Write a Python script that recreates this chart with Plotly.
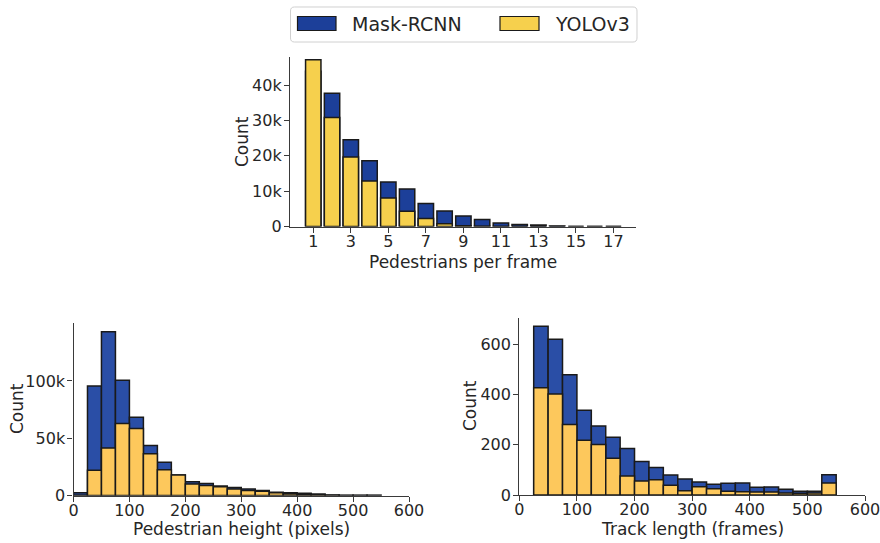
import plotly.graph_objects as go

# ---- data -------------------------------------------------------------
ped_per_frame = list(range(1, 18))
mask_ppf = [44000, 37700, 24600, 18600, 12600, 10600, 6500, 4400, 3000, 2000,
            1000, 600, 400, 120, 0, 0, 0]
yolo_ppf = [47200, 30900, 19700, 12900, 8100, 4300, 2300, 800, 200, 50,
            10, 0, 0, 0, 0, 0, 0]

height_bins = [12.5 + 25 * i for i in range(22)]
mask_height = [2300, 95600, 143000, 100600, 68400, 43600, 29000, 18000, 12000,
               10500, 8200, 7000, 5600, 4400, 2900, 2300, 2000, 1400, 500, 300,
               300, 200]
yolo_height = [300, 22000, 41500, 62900, 58500, 36500, 22500, 17800, 10000,
               8800, 7600, 5600, 4400, 3800, 2300, 1500, 1400, 600, 200, 100,
               100, 100]

track_bins = [37.5 + 25 * i for i in range(21)]
mask_track = [672, 620, 479, 338, 275, 230, 185, 133, 110, 80, 64, 52, 43, 47,
              48, 31, 32, 23, 15, 15, 81]
yolo_track = [427, 402, 281, 218, 201, 146, 76, 56, 61, 39, 17, 33, 25, 15, 13,
              12, 12, 8, 7, 8, 48]

ppf_ticks = [1, 3, 5, 7, 9, 11, 13, 15, 17]
ppf_yticks = [0, 10000, 20000, 30000, 40000]
ppf_ylabels = ["0", "10k", "20k", "30k", "40k"]
h_yticks = [0, 50000, 100000]
h_ylabels = ["0", "50k", "100k"]
t_yticks = [0, 200, 400, 600]
px_ticks = [0, 100, 200, 300, 400, 500, 600]

series_names = ["Mask-RCNN", "YOLOv3"]

# ---- styling ----------------------------------------------------------
W, H = 880, 543
BLUE_TOP, YEL_TOP = "#1c3f99", "#f6d04d"
BLUE_BOT, YEL_BOT = "#2a4ea6", "#fdc85c"
EDGE = "#1a1a1a"
TXT = "#262626"
SPINE = "#3a3a3a"
FONT = "DejaVu Sans"
TICK_FS = 16
TITLE_FS = 17


def px_x(a, b):
    return [a / W, b / W]


def px_y(top, bottom):
    return [1 - bottom / H, 1 - top / H]


fig = go.Figure()


def add_pair(xs, blue, yel, width, cb, cy, xa, ya):
    fig.add_trace(go.Bar(x=xs, y=blue, width=width,
                         marker=dict(color=cb, line=dict(color=EDGE, width=1.5)),
                         xaxis=xa, yaxis=ya, showlegend=False, name=series_names[0]))
    fig.add_trace(go.Bar(x=xs, y=yel, width=width,
                         marker=dict(color=cy, line=dict(color=EDGE, width=1.5)),
                         xaxis=xa, yaxis=ya, showlegend=False, name=series_names[1]))


add_pair(ped_per_frame, mask_ppf, yolo_ppf, 0.82, BLUE_TOP, YEL_TOP, "x", "y")
add_pair(height_bins, mask_height, yolo_height, 25, BLUE_BOT, YEL_BOT, "x2", "y2")
add_pair(track_bins, mask_track, yolo_track, 25, BLUE_BOT, YEL_BOT, "x3", "y3")

axis_common = dict(showline=True, linecolor=SPINE, linewidth=1.3, ticks="outside",
                   ticklen=5, tickwidth=1.3, tickcolor=SPINE, showgrid=False,
                   zeroline=False, automargin=False, ticklabeloverflow="allow",
                   tickfont=dict(family=FONT, size=TICK_FS, color=TXT))
x_common = dict(axis_common, ticklabelstandoff=-5)
y_common = dict(axis_common, ticklabelstandoff=-1)

fig.update_layout(
    width=W, height=H, margin=dict(l=0, r=0, t=0, b=0),
    paper_bgcolor="white", plot_bgcolor="white", barmode="overlay",
    font=dict(family=FONT, color=TXT),
    xaxis=dict(domain=px_x(290, 636), range=[-0.24, 18.2], tickvals=ppf_ticks,
               anchor="y", **x_common),
    yaxis=dict(domain=px_y(57, 226.5), range=[0, 48000], tickvals=ppf_yticks,
               ticktext=ppf_ylabels, anchor="x", **y_common),
    xaxis2=dict(domain=px_x(73.5, 409), range=[0, 600], tickvals=px_ticks,
                anchor="y2", **x_common),
    yaxis2=dict(domain=px_y(323, 495.5), range=[0, 150600], tickvals=h_yticks,
                ticktext=h_ylabels, anchor="x2", **y_common),
    xaxis3=dict(domain=px_x(519.3, 865), range=[0, 600], tickvals=px_ticks,
                anchor="y3", **x_common),
    yaxis3=dict(domain=px_y(318, 495), range=[0, 705], tickvals=t_yticks,
                anchor="x3", **y_common),
)

# axis titles, placed in pixel positions
titles = [
    ("Pedestrians per frame", 463, 262, 0),
    ("Count", 242, 142, -90),
    ("Pedestrian height (pixels)", 241, 529, 0),
    ("Count", 17, 409, -90),
    ("Track length (frames)", 692, 529, 0),
    ("Count", 470, 406, -90),
]
for text, tx, ty, ang in titles:
    fig.add_annotation(xref="paper", yref="paper", x=tx / W, y=1 - ty / H, text=text,
                       showarrow=False, textangle=ang, xanchor="center", yanchor="middle",
                       font=dict(family=FONT, size=TITLE_FS, color=TXT))


# ---- legend drawn with shapes and text --------------------------------
def pr(x0, y0, x1, y1, **kw):
    fig.add_shape(type="rect", xref="paper", yref="paper", x0=x0 / W, x1=x1 / W,
                  y0=1 - y1 / H, y1=1 - y0 / H, **kw)


def rounded_box(x0, y0, x1, y1, r):
    """SVG path of a rounded rectangle, given in pixel coords, converted to paper."""
    pts = [("M", x0 + r, y0), ("L", x1 - r, y0), ("Q", x1, y0, x1, y0 + r),
           ("L", x1, y1 - r), ("Q", x1, y1, x1 - r, y1), ("L", x0 + r, y1),
           ("Q", x0, y1, x0, y1 - r), ("L", x0, y0 + r), ("Q", x0, y0, x0 + r, y0)]
    parts = []
    for p in pts:
        cmd, nums = p[0], p[1:]
        coords = []
        for i in range(0, len(nums), 2):
            coords.append(f"{nums[i] / W:.5f},{1 - nums[i + 1] / H:.5f}")
        parts.append(cmd + " " + " ".join(coords))
    return " ".join(parts) + " Z"


fig.add_shape(type="path", xref="paper", yref="paper",
              path=rounded_box(290.5, 7, 637, 42, 4),
              line=dict(color="#d0d0d0", width=1), fillcolor="white")
pr(297.5, 16.5, 336, 30.5, fillcolor=BLUE_TOP, line=dict(color=EDGE, width=1.2))
pr(500, 16.5, 539, 30.5, fillcolor=YEL_TOP, line=dict(color=EDGE, width=1.2))
for xl, label in [(350, series_names[0]), (553, series_names[1])]:
    fig.add_annotation(xref="paper", yref="paper", x=xl / W, y=1 - 23.5 / H,
                       text=label, showarrow=False, xanchor="left", yanchor="middle",
                       font=dict(family=FONT, size=19, color=TXT))

fig.write_html("out.html")
